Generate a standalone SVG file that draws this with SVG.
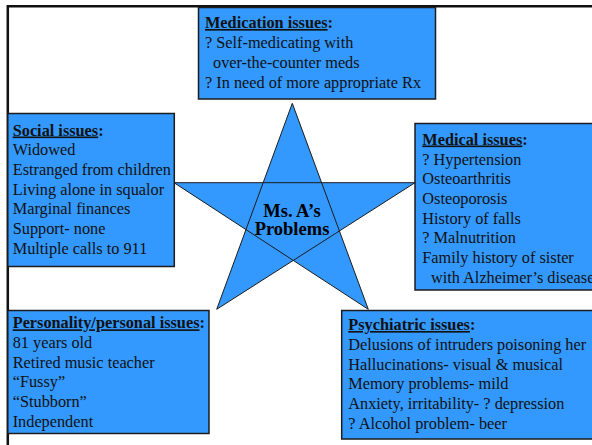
<svg xmlns="http://www.w3.org/2000/svg" width="592" height="445" viewBox="0 0 592 445">
  <style>
    .box { fill: #3399ff; stroke: #1c1c1c; stroke-width: 1.5; }
    .star { fill: #3399ff; stroke: #1c1c1c; stroke-width: 1; stroke-linejoin: miter; }
    .frame { stroke: #111; stroke-width: 2.5; fill: none; }
    text { font-family: "Liberation Serif", "Times New Roman", serif; font-size: 16.3px; fill: #111; }
    .hd { font-weight: bold; }
    .ul { text-decoration: underline; }
    .title { font-weight: bold; font-size: 18.5px; text-anchor: middle; fill: #000; }
  </style>

  <rect width="592" height="445" fill="#ffffff"/>

  <!-- page frame: top and left rules -->
  <path class="frame" d="M7.8,445 V6.2 H592"/>

  <!-- central star -->
  <g id="problems">
    <polygon class="star" points="292.3,103.3 368.3,309.3 174,182.7 415,182.7 216.7,309.3"/>
    <text class="title" x="292" y="217">Ms. A’s</text>
    <text class="title" x="292" y="235">Problems</text>
  </g>

  <g id="medication">
    <rect class="box" x="198.5" y="7.5" width="237" height="91.5"/>
    <text class="hd" x="205" y="28"><tspan class="ul">Medication issues</tspan>:</text>
    <text x="205" y="48">? Self-medicating with</text>
    <text x="213" y="68">over-the-counter meds</text>
    <text x="205" y="88">? In need of more appropriate Rx</text>
  </g>

  <g id="social">
    <rect class="box" x="7.8" y="113.5" width="166.5" height="153"/>
    <text class="hd" x="12.7" y="135.5"><tspan class="ul">Social issues</tspan>:</text>
    <text x="12.7" y="155.3">Widowed</text>
    <text x="12.7" y="175">Estranged from children</text>
    <text x="12.7" y="194.7">Living alone in squalor</text>
    <text x="12.7" y="214.4">Marginal finances</text>
    <text x="12.7" y="234.1">Support- none</text>
    <text x="12.7" y="253.8">Multiple calls to 911</text>
  </g>

  <g id="medical">
    <rect class="box" x="415" y="123.5" width="185" height="166.5"/>
    <text class="hd" x="422.3" y="144.5"><tspan class="ul">Medical issues</tspan>:</text>
    <text x="422.3" y="164.5">? Hypertension</text>
    <text x="422.3" y="184.2">Osteoarthritis</text>
    <text x="422.3" y="203.9">Osteoporosis</text>
    <text x="422.3" y="223.6">History of falls</text>
    <text x="422.3" y="243.3">? Malnutrition</text>
    <text x="422.3" y="263">Family history of sister</text>
    <text x="431" y="282.7">with Alzheimer’s disease</text>
  </g>

  <g id="personality">
    <rect class="box" x="7.8" y="310.5" width="201.2" height="123"/>
    <text class="hd" x="12.7" y="328.3"><tspan class="ul">Personality/personal issues</tspan>:</text>
    <text x="12.7" y="348">81 years old</text>
    <text x="12.7" y="367.7">Retired music teacher</text>
    <text x="12.7" y="387.4">“Fussy”</text>
    <text x="12.7" y="407.1">“Stubborn”</text>
    <text x="12.7" y="426.8">Independent</text>
  </g>

  <g id="psychiatric">
    <rect class="box" x="341.7" y="310.5" width="258" height="128.5"/>
    <text class="hd" x="348.3" y="330"><tspan class="ul">Psychiatric issues</tspan>:</text>
    <text x="348.3" y="350">Delusions of intruders poisoning her</text>
    <text x="348.3" y="369.7">Hallucinations- visual &amp; musical</text>
    <text x="348.3" y="389.4">Memory problems- mild</text>
    <text x="348.3" y="409.1">Anxiety, irritability- ? depression</text>
    <text x="348.3" y="428.8">? Alcohol problem- beer</text>
  </g>
</svg>
